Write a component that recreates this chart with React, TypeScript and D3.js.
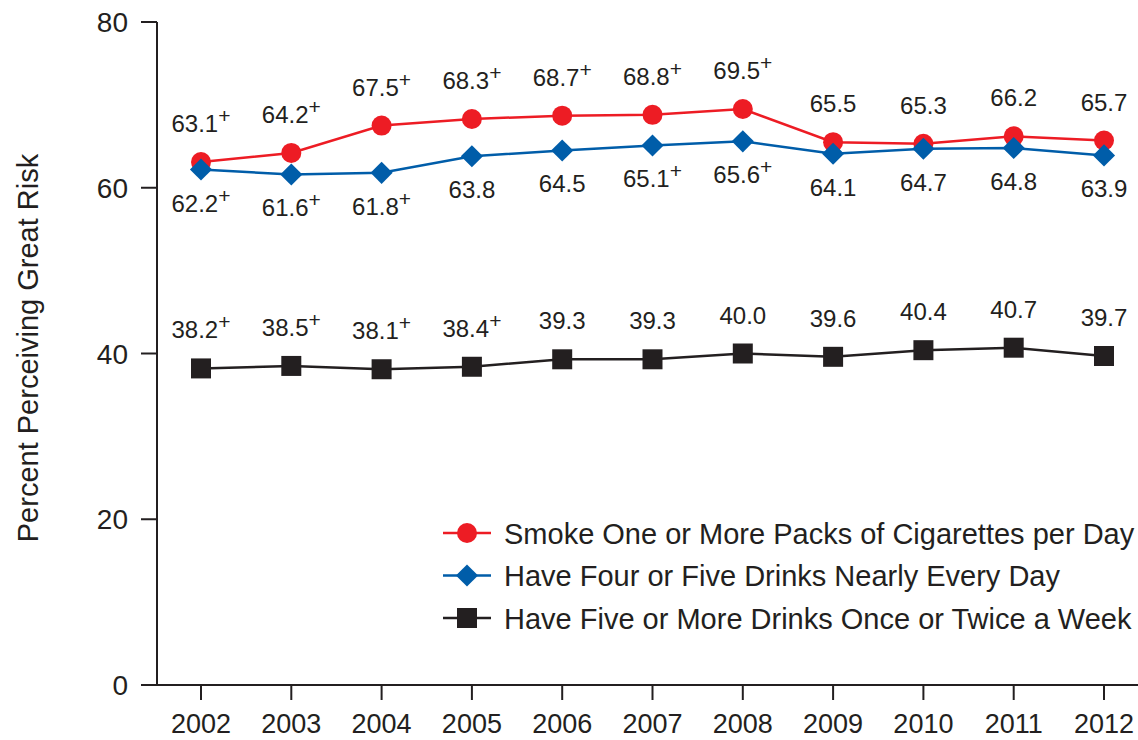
import React from 'react';
import * as d3 from 'd3';

const years = [2002, 2003, 2004, 2005, 2006, 2007, 2008, 2009, 2010, 2011, 2012];
const smokeValues = [63.1, 64.2, 67.5, 68.3, 68.7, 68.8, 69.5, 65.5, 65.3, 66.2, 65.7];
const smokeSig = [true, true, true, true, true, true, true, false, false, false, false];
const dailyDrinkValues = [62.2, 61.6, 61.8, 63.8, 64.5, 65.1, 65.6, 64.1, 64.7, 64.8, 63.9];
const dailyDrinkSig = [true, true, true, false, false, true, true, false, false, false, false];
const weeklyDrinkValues = [38.2, 38.5, 38.1, 38.4, 39.3, 39.3, 40.0, 39.6, 40.4, 40.7, 39.7];
const weeklyDrinkSig = [true, true, true, true, false, false, false, false, false, false, false];
const yTicks = [0, 20, 40, 60, 80];

const FONT = '"Liberation Sans", Arial, Helvetica, sans-serif';
const INK = '#231f20';

const width = 1138;
const height = 740;
const margin = { top: 22, right: 0, bottom: 55, left: 157 };

const x = d3.scaleLinear().domain([2002, 2012]).range([201, 1104]);
const y = d3.scaleLinear().domain([0, 80]).range([height - margin.bottom, margin.top]);

type Series = {
  name: string;
  values: number[];
  sig: boolean[];
  color: string;
  symbol: d3.SymbolType;
  size: number;
  rotate: number;
  labelDy: number; // baseline offset from the point
};

const series: Series[] = [
  {
    name: 'Have Five or More Drinks Once or Twice a Week',
    values: weeklyDrinkValues,
    sig: weeklyDrinkSig,
    color: INK,
    symbol: d3.symbolSquare,
    size: 400,
    rotate: 0,
    labelDy: -30,
  },
  {
    name: 'Smoke One or More Packs of Cigarettes per Day',
    values: smokeValues,
    sig: smokeSig,
    color: '#ed1c24',
    symbol: d3.symbolCircle,
    size: Math.PI * 100,
    rotate: 0,
    labelDy: -30,
  },
  {
    name: 'Have Four or Five Drinks Nearly Every Day',
    values: dailyDrinkValues,
    sig: dailyDrinkSig,
    color: '#005da9',
    symbol: d3.symbolSquare,
    size: 245,
    rotate: 45,
    labelDy: 42,
  },
];

const legendOrder = [1, 2, 0];

const Label: React.FC<{ cx: number; cy: number; value: number; sig: boolean }> = ({ cx, cy, value, sig }) => (
  <text x={cx} y={cy} textAnchor="middle" fontSize={24} fill={INK} fontFamily={FONT}>
    {value.toFixed(1)}
    {sig && (
      <tspan fontSize={21} dy={-9}>+</tspan>
    )}
  </text>
);

const App: React.FC = () => {
  const line = d3.line<number>()
    .x((_, i) => x(years[i]))
    .y(d => y(d));
  const y0 = y(0);

  return (
    <svg
      width={width}
      height={height}
      style={{ position: 'absolute', left: 0, top: 0, background: '#fff' }}
      fontFamily={FONT}
    >
      {/* y axis */}
      <line x1={margin.left} x2={margin.left} y1={y(80)} y2={y0} stroke={INK} strokeWidth={2} />
      {yTicks.map(t => (
        <g key={t} transform={`translate(0,${y(t)})`}>
          <line x1={margin.left - 16} x2={margin.left} stroke={INK} strokeWidth={2} />
          <text x={128} dy={10} textAnchor="end" fontSize={28} fill={INK}>{t}</text>
        </g>
      ))}
      <text
        transform={`translate(38,348) rotate(-90)`}
        textAnchor="middle"
        fontSize={29}
        fill={INK}
      >
        Percent Perceiving Great Risk
      </text>

      {/* x axis */}
      <line x1={margin.left - 16} x2={width} y1={y0} y2={y0} stroke={INK} strokeWidth={2} />
      {years.map(yr => (
        <g key={yr} transform={`translate(${x(yr)},${y0})`}>
          <line y1={0} y2={15} stroke={INK} strokeWidth={2} />
          <text y={48} textAnchor="middle" fontSize={27} fill={INK}>{yr}</text>
        </g>
      ))}

      {/* series */}
      {series.map(s => (
        <g key={s.name}>
          <path d={line(s.values) ?? ''} fill="none" stroke={s.color} strokeWidth={2.5} />
          {s.values.map((v, i) => (
            <path
              key={i}
              d={d3.symbol(s.symbol, s.size)() ?? ''}
              transform={`translate(${x(years[i])},${y(v)}) rotate(${s.rotate})`}
              fill={s.color}
            />
          ))}
          {s.values.map((v, i) => (
            <Label key={`l${i}`} cx={x(years[i])} cy={y(v) + s.labelDy} value={v} sig={s.sig[i]} />
          ))}
        </g>
      ))}

      {/* legend */}
      {legendOrder.map((si, row) => {
        const s = series[si];
        const cy = 533 + row * 42.5;
        return (
          <g key={s.name} transform={`translate(0,${cy})`}>
            <line x1={443} x2={491} stroke={s.color} strokeWidth={2.5} />
            <path
              d={d3.symbol(s.symbol, s.size)() ?? ''}
              transform={`translate(467,0) rotate(${s.rotate})`}
              fill={s.color}
            />
            <text x={504} dy={10.5} fontSize={29} fill={INK}>{s.name}</text>
          </g>
        );
      })}
    </svg>
  );
};

export default App;
